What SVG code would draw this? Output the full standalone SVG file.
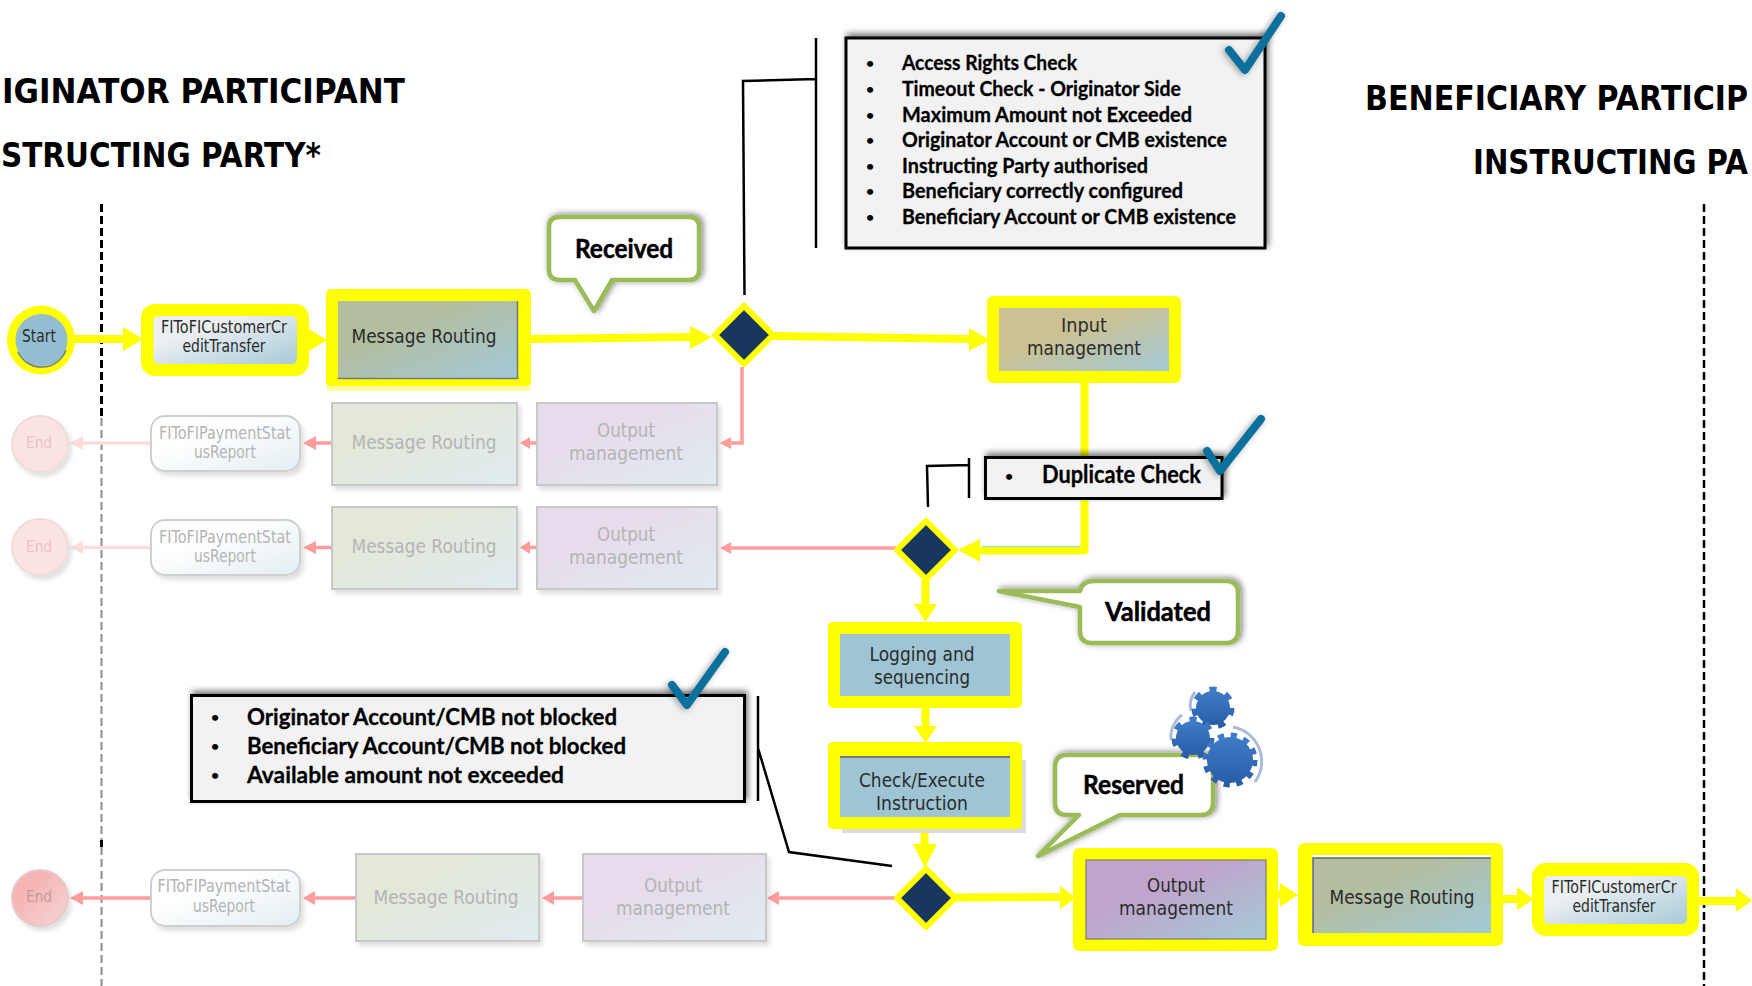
<svg xmlns="http://www.w3.org/2000/svg" width="1752" height="986" viewBox="0 0 1752 986">
<style>
text{font-family:"DejaVu Sans","Liberation Sans",sans-serif;text-anchor:middle;fill:#2b2b2b;font-size:20px}
.t{font-size:33px;font-weight:bold;fill:#000;text-anchor:start}
.fi{font-size:17px}
.fade{fill:#b4b4b4}
.endt{fill:#e6c4c4;font-size:16.5px}
.endd{fill:#c49a9a;font-size:16.5px}
.li{font-family:Lato,"Liberation Sans",sans-serif;font-weight:bold;fill:#000;font-size:21px;text-anchor:start;stroke:#000;stroke-width:.3px}
.li2{font-size:23px}
.li3{font-size:25px}
.bu{font-family:Lato,"Liberation Sans",sans-serif;font-weight:bold;fill:#000;font-size:14px;text-anchor:middle}
.co{font-family:Lato,"Liberation Sans",sans-serif;font-weight:bold;fill:#000;font-size:26px;text-anchor:start;stroke:#000;stroke-width:.5px}
.y{fill:#ff0}
.yl{fill:none;stroke:#ff0;stroke-width:8}
.ya{fill:#ff0}
.red{fill:none;stroke:#ff9c9c;stroke-width:3.5}
.reda{fill:#ff9c9c}
.pale{fill:none;stroke:#ffdcdc;stroke-width:3.5}
.palea{fill:#ffdcdc}
.brk{fill:none;stroke:#000;stroke-width:2.5}
.list{fill:#f2f2f2;stroke:#000;stroke-width:3}
.call{fill:#fff;stroke:#9bbb59;stroke-width:4.5;stroke-linejoin:round}
.chk{fill:none;stroke:#0c6f9c;stroke-width:8;stroke-linecap:round;stroke-linejoin:round}
.fr{fill:url(#fmr);stroke:#c8c8c8;stroke-width:2}
.fo{fill:url(#fom);stroke:#c8c8c8;stroke-width:2}
.ff{fill:url(#ffi);stroke:#cfcfcf;stroke-width:2}
.fe{fill:#fbe3e3;stroke:#f0dada;stroke-width:2}
.nv{fill:#17375e;stroke:#ff0;stroke-width:6;stroke-linejoin:round}
.gt{fill:none;stroke:url(#ggear)}
.arc{fill:none;stroke:#a9bbd8;stroke-width:3}
</style>
<defs>
<linearGradient id="gmr" x1="0" y1="0" x2="1" y2="1"><stop offset=".35" stop-color="#b3bea0"/><stop offset="1" stop-color="#a2c9d9"/></linearGradient>
<linearGradient id="gim" x1="0" y1="0" x2="1" y2="1"><stop offset=".4" stop-color="#cac295"/><stop offset="1" stop-color="#a3c9d8"/></linearGradient>
<linearGradient id="gom" x1="0" y1="0" x2="1" y2="1"><stop offset=".35" stop-color="#c1a3cb"/><stop offset="1" stop-color="#a4c9d8"/></linearGradient>
<linearGradient id="gfi" x1="0" y1="0" x2="1" y2="1"><stop offset=".3" stop-color="#eceff1"/><stop offset="1" stop-color="#a6cad8"/></linearGradient>
<linearGradient id="fmr" x1="0" y1="0" x2="1" y2="1"><stop offset=".35" stop-color="#e3e8da"/><stop offset="1" stop-color="#dfebf0"/></linearGradient>
<linearGradient id="fom" x1="0" y1="0" x2="1" y2="1"><stop offset=".35" stop-color="#e7dceb"/><stop offset="1" stop-color="#dfebf1"/></linearGradient>
<linearGradient id="ffi" x1="0" y1="0" x2="1" y2="1"><stop offset=".35" stop-color="#fff"/><stop offset="1" stop-color="#e2edf2"/></linearGradient>
<linearGradient id="gend" x1="0" y1="0" x2="1" y2="1"><stop offset=".3" stop-color="#f6b4b4"/><stop offset="1" stop-color="#f2d6d6"/></linearGradient>
<linearGradient id="ggear" x1="0" y1="0" x2="0" y2="1"><stop offset="0" stop-color="#3f7cc8"/><stop offset="1" stop-color="#2a5da8"/></linearGradient>
<filter id="sh" x="-10%" y="-25%" width="120%" height="150%"><feDropShadow dx="2" dy="-3" stdDeviation="3" flood-color="#000" flood-opacity=".55"/></filter>
<filter id="sc" x="-15%" y="-25%" width="130%" height="150%"><feDropShadow dx="2" dy="-1" stdDeviation="3" flood-color="#000" flood-opacity=".5"/></filter>
<filter id="sf" x="-10%" y="-10%" width="125%" height="125%"><feDropShadow dx="3" dy="4" stdDeviation="2" flood-color="#000" flood-opacity=".12"/></filter>
<filter id="sk" x="-30%" y="-30%" width="160%" height="160%"><feDropShadow dx="-2" dy="1" stdDeviation="3" flood-color="#000" flood-opacity=".35"/></filter>
</defs>
<rect width="1752" height="986" fill="#fff"/>

<g id="titles">
<text class="t" x="2" y="103" textLength="403" lengthAdjust="spacingAndGlyphs">IGINATOR PARTICIPANT</text>
<text class="t" x="1" y="167" textLength="320" lengthAdjust="spacingAndGlyphs">STRUCTING PARTY*</text>
<text class="t" x="1365" y="110" textLength="383" lengthAdjust="spacingAndGlyphs">BENEFICIARY PARTICIP</text>
<text class="t" x="1473" y="174" textLength="275" lengthAdjust="spacingAndGlyphs">INSTRUCTING PA</text>
</g>

<g id="lanes" fill="none">
<path d="M101.500 204V418" stroke="#000" stroke-width="3" stroke-dasharray="8 4"/>
<path d="M101.500 418V840M101.500 847V986" stroke="#8c8c8c" stroke-width="2" stroke-dasharray="8 4"/>
<path d="M101.500 840V847" stroke="#000" stroke-width="3"/>
<path d="M1704 204V986" stroke="#000" stroke-width="2.500" stroke-dasharray="8 4"/>
</g>

<g id="connectors">
<path class="pale" d="M151 443H80"/><path class="palea" d="M70 443L83 436V450Z"/>
<path class="pale" d="M151 547.500H80"/><path class="palea" d="M70 547.500L83 541V554Z"/>
<path class="red" d="M332 443H312"/><path class="reda" d="M303 443L316 436V450Z"/>
<path class="red" d="M332 547.500H312"/><path class="reda" d="M303 547.500L316 541V554Z"/>
<path class="red" d="M537 443H526"/><path class="reda" d="M520 443L530 437V449Z"/>
<path class="red" d="M537 547.500H526"/><path class="reda" d="M520 547.500L530 541V554Z"/>
<path class="red" d="M742 367V443H728"/><path class="reda" d="M720 443L731 437V449Z"/>
<path class="red" d="M896 548H728"/><path class="reda" d="M720 548L731 542V554Z"/>
<path class="red" d="M895 898H772"/><path class="reda" d="M767 898L779 891V905Z"/>
<path class="red" d="M583 898H550"/><path class="reda" d="M542 898L554 891V905Z"/>
<path class="red" d="M356 898H310"/><path class="reda" d="M303 898L315 891V905Z"/>
<path class="red" d="M151 898H78"/><path class="reda" d="M70 898L83 891V905Z"/>

<path class="yl" d="M70 339H125"/><path class="ya" d="M123 327L143 339L123 351Z"/>
<path class="yl" d="M290 340H312"/><path class="ya" d="M309 329L327 340L309 351Z"/>
<path class="yl" d="M531 339L695 337"/><path class="ya" d="M690 326L712 337L690 349Z"/>
<path class="yl" d="M772 336L972 339"/><path class="ya" d="M969 328L990 340L969 351Z"/>
<path class="yl" d="M1084.500 380V550.500H975" stroke-linejoin="round"/><path class="ya" d="M980 539L958 550L980 562Z"/>
<path d="M982 546.500H1080" fill="none" stroke="#a8e8b8" stroke-width="1.500"/>
<path class="yl" d="M925.500 580V608"/><path class="ya" d="M914 604H937L925.500 622Z"/>
<path class="yl" d="M925.500 706V730"/><path class="ya" d="M914 726H937L925.500 743Z"/>
<path class="yl" d="M924.500 827V848"/><path class="ya" d="M913 844H937L925 868Z"/>
<path class="yl" d="M952 897.500L1065 897"/><path class="ya" d="M1060 886L1076 897.500L1060 909Z"/>
<path class="yl" d="M1276 895H1285"/><path class="ya" d="M1280 883L1298 895L1280 907Z"/>
<path class="yl" d="M1501 899H1520"/><path class="ya" d="M1517 887L1534 899L1517 910Z"/>
<path class="yl" d="M1697 901H1740"/><path class="ya" d="M1736 888L1752 900.500L1736 912Z"/>

<path class="brk" d="M816 38V248M816 79L743 81L744.500 295"/>
<path class="brk" d="M969 458V498M969 465L927 466L928 507"/>
<path class="brk" d="M758 696V801M758 748L789 852L892 866"/>
</g>

<g id="node-start"><ellipse class="y" cx="41" cy="340" rx="34" ry="34.500"/><circle cx="41.500" cy="340" r="26" fill="#93bdd0"/><path d="M18 352A26 26 0 0 0 66 350" fill="none" stroke="#6d7f8a" stroke-width="1.500"/><text x="39" y="342" textLength="34" lengthAdjust="spacingAndGlyphs" class="fi">Start</text></g>
<g id="node-fi-1"><rect class="y" x="141" y="304" width="168" height="72" rx="14"/><rect x="153.500" y="316" width="143.500" height="48" rx="5" fill="url(#gfi)"/><text class="fi" x="224" y="333" textLength="126" lengthAdjust="spacingAndGlyphs">FIToFICustomerCr</text><text class="fi" x="224" y="352" textLength="83" lengthAdjust="spacingAndGlyphs">editTransfer</text></g>
<g id="node-mr-1"><rect x="326" y="380" width="205" height="11" rx="4" fill="#ffff99"/><rect class="y" x="326" y="289" width="205" height="97" rx="5"/><rect x="338" y="301" width="179" height="78" fill="url(#gmr)"/><path d="M338 378.500H517.500V301" fill="none" stroke="#70787a" stroke-width="1.500"/><text x="424" y="343" textLength="145" lengthAdjust="spacingAndGlyphs">Message Routing</text></g>
<g id="node-gw-1"><path class="nv" d="M744 306L773 335L744 364L715 335Z"/></g>
<g id="node-input"><rect class="y" x="987" y="296" width="194" height="87" rx="6"/><rect x="999" y="308" width="170" height="63" fill="url(#gim)"/><text x="1084" y="332" textLength="46" lengthAdjust="spacingAndGlyphs">Input</text><text x="1084" y="355" textLength="114" lengthAdjust="spacingAndGlyphs">management</text></g>

<g id="node-end-2"><ellipse class="fe" cx="40" cy="444" rx="28" ry="28" filter="url(#sf)"/><text class="endt" x="39" y="448" textLength="26" lengthAdjust="spacingAndGlyphs">End</text></g>
<g id="node-status-2"><rect class="ff" x="151" y="416" width="149" height="55" rx="14" filter="url(#sf)"/><text class="fi fade" x="225" y="439" textLength="132" lengthAdjust="spacingAndGlyphs">FIToFIPaymentStat</text><text class="fi fade" x="225" y="458" textLength="62" lengthAdjust="spacingAndGlyphs">usReport</text></g>
<g id="node-mr-2"><rect class="fr" x="332" y="403" width="185" height="82" filter="url(#sf)"/><text class="fade" x="424" y="449" textLength="145" lengthAdjust="spacingAndGlyphs">Message Routing</text></g>
<g id="node-om-2"><rect class="fo" x="537" y="403" width="180" height="82" filter="url(#sf)"/><text class="fade" x="626" y="437" textLength="58" lengthAdjust="spacingAndGlyphs">Output</text><text class="fade" x="626" y="460" textLength="114" lengthAdjust="spacingAndGlyphs">management</text></g>

<g id="node-end-3"><ellipse class="fe" cx="40" cy="547" rx="28" ry="28" filter="url(#sf)"/><text class="endt" x="39" y="552" textLength="26" lengthAdjust="spacingAndGlyphs">End</text></g>
<g id="node-status-3"><rect class="ff" x="151" y="520" width="149" height="55" rx="14" filter="url(#sf)"/><text class="fi fade" x="225" y="543" textLength="132" lengthAdjust="spacingAndGlyphs">FIToFIPaymentStat</text><text class="fi fade" x="225" y="562" textLength="62" lengthAdjust="spacingAndGlyphs">usReport</text></g>
<g id="node-mr-3"><rect class="fr" x="332" y="507" width="185" height="82" filter="url(#sf)"/><text class="fade" x="424" y="553" textLength="145" lengthAdjust="spacingAndGlyphs">Message Routing</text></g>
<g id="node-om-3"><rect class="fo" x="537" y="507" width="180" height="82" filter="url(#sf)"/><text class="fade" x="626" y="541" textLength="58" lengthAdjust="spacingAndGlyphs">Output</text><text class="fade" x="626" y="564" textLength="114" lengthAdjust="spacingAndGlyphs">management</text></g>

<g id="node-gw-2"><path class="nv" d="M926 521L955 550L926 579L897 550Z"/></g>
<g id="node-logging"><rect class="y" x="828" y="622" width="194" height="86" rx="5"/><rect x="840" y="634" width="170" height="62" fill="#9fc5d5"/><text x="922" y="661" textLength="105" lengthAdjust="spacingAndGlyphs">Logging and</text><text x="922" y="684" textLength="96" lengthAdjust="spacingAndGlyphs">sequencing</text></g>
<g id="node-check"><rect x="842" y="760" width="184" height="73" fill="#dcdcdc"/><rect class="y" x="828" y="742" width="194" height="87" rx="5"/><rect x="840" y="756" width="170" height="61" fill="#9fc5d5" stroke-width="0"/><rect x="840" y="756" width="170" height="2" fill="#777"/><text x="922" y="787" textLength="126" lengthAdjust="spacingAndGlyphs">Check/Execute</text><text x="922" y="810" textLength="92" lengthAdjust="spacingAndGlyphs">Instruction</text></g>
<g id="node-gw-3"><path class="nv" d="M926 869L955 898L926 927L897 898Z"/></g>

<g id="node-end-4"><ellipse cx="40" cy="898" rx="28" ry="28" fill="url(#gend)" stroke="#e8c8c8" stroke-width="2" filter="url(#sf)"/><text class="endd" x="39" y="902" textLength="26" lengthAdjust="spacingAndGlyphs">End</text></g>
<g id="node-status-4"><rect class="ff" x="151" y="870" width="149" height="56" rx="14" filter="url(#sf)"/><text class="fi fade" x="224" y="892" textLength="133" lengthAdjust="spacingAndGlyphs">FIToFIPaymentStat</text><text class="fi fade" x="224" y="912" textLength="62" lengthAdjust="spacingAndGlyphs">usReport</text></g>
<g id="node-mr-4"><rect class="fr" x="356" y="854" width="183" height="87" filter="url(#sf)"/><text class="fade" x="446" y="904" textLength="145" lengthAdjust="spacingAndGlyphs">Message Routing</text></g>
<g id="node-om-4"><rect class="fo" x="583" y="854" width="183" height="87" filter="url(#sf)"/><text class="fade" x="673" y="892" textLength="58" lengthAdjust="spacingAndGlyphs">Output</text><text class="fade" x="673" y="915" textLength="114" lengthAdjust="spacingAndGlyphs">management</text></g>

<g id="node-om-5"><rect class="y" x="1073" y="848" width="205" height="103" rx="6"/><rect x="1086" y="860" width="180" height="79" fill="url(#gom)" stroke="#6a6a78" stroke-width="1"/><text x="1176" y="892" textLength="58" lengthAdjust="spacingAndGlyphs">Output</text><text x="1176" y="915" textLength="114" lengthAdjust="spacingAndGlyphs">management</text></g>
<g id="node-mr-5"><rect class="y" x="1298" y="843" width="205" height="103" rx="6"/><rect x="1312" y="855" width="179" height="78" fill="#fff"/><rect x="1313" y="858" width="178" height="75" fill="url(#gmr)"/><path d="M1313 933V858H1491" fill="none" stroke="#5f6668" stroke-width="1.500"/><text x="1402" y="904" textLength="145" lengthAdjust="spacingAndGlyphs">Message Routing</text></g>
<g id="node-fi-5"><rect class="y" x="1532" y="863" width="167" height="73" rx="14"/><rect x="1544" y="876" width="143" height="48" rx="5" fill="url(#gfi)"/><text class="fi" x="1614" y="893" textLength="125" lengthAdjust="spacingAndGlyphs">FIToFICustomerCr</text><text class="fi" x="1614" y="912" textLength="83" lengthAdjust="spacingAndGlyphs">editTransfer</text></g>

<g id="note-checks-1">
<rect class="list" x="846" y="38" width="419" height="210" filter="url(#sh)"/>
<text class="bu" x="870" y="68">•</text><text class="li" x="902" y="70" textLength="175" lengthAdjust="spacingAndGlyphs">Access Rights Check</text>
<text class="bu" x="870" y="94">•</text><text class="li" x="902" y="96" textLength="279" lengthAdjust="spacingAndGlyphs">Timeout Check - Originator Side</text>
<text class="bu" x="870" y="120">•</text><text class="li" x="902" y="122" textLength="290" lengthAdjust="spacingAndGlyphs">Maximum Amount not Exceeded</text>
<text class="bu" x="870" y="145">•</text><text class="li" x="902" y="147" textLength="325" lengthAdjust="spacingAndGlyphs">Originator Account or CMB existence</text>
<text class="bu" x="870" y="171">•</text><text class="li" x="902" y="173" textLength="246" lengthAdjust="spacingAndGlyphs">Instructing Party authorised</text>
<text class="bu" x="870" y="196">•</text><text class="li" x="902" y="198" textLength="281" lengthAdjust="spacingAndGlyphs">Beneficiary correctly configured</text>
<text class="bu" x="870" y="222">•</text><text class="li" x="902" y="224" textLength="334" lengthAdjust="spacingAndGlyphs">Beneficiary Account or CMB existence</text>
<path class="chk" d="M1229 50L1245 70L1281 16" filter="url(#sk)"/>
</g>
<g id="note-duplicate">
<rect class="list" x="985.500" y="457.500" width="236.500" height="41" filter="url(#sh)"/>
<text class="bu" x="1009" y="481" font-size="16">•</text><text class="li li3" x="1042" y="483" textLength="159" lengthAdjust="spacingAndGlyphs">Duplicate Check</text>
<path class="chk" d="M1207 451L1220 471L1261 419" filter="url(#sk)"/>
</g>
<g id="note-checks-2">
<rect class="list" x="191.500" y="695.500" width="553" height="106" filter="url(#sh)"/>
<text class="bu" x="215" y="722">•</text><text class="li li2" x="247" y="725" textLength="370" lengthAdjust="spacingAndGlyphs">Originator Account/CMB not blocked</text>
<text class="bu" x="215" y="751">•</text><text class="li li2" x="247" y="754" textLength="379" lengthAdjust="spacingAndGlyphs">Beneficiary Account/CMB not blocked</text>
<text class="bu" x="215" y="780">•</text><text class="li li2" x="247" y="783" textLength="317" lengthAdjust="spacingAndGlyphs">Available amount not exceeded</text>
<path class="chk" d="M672 685L687 705L725 652" filter="url(#sk)"/>
</g>

<g id="callout-received">
<path class="call" filter="url(#sc)" d="M560 217H689Q699 217 699 227V270Q699 280 689 280H612L594 311L575 280H560Q549 280 549 270V227Q549 217 560 217Z"/>
<text class="co" x="575" y="258" textLength="98" lengthAdjust="spacingAndGlyphs">Received</text>
</g>
<g id="callout-validated">
<path class="call" filter="url(#sc)" d="M1094 581H1226Q1238 581 1238 593V631Q1238 643 1226 643H1092Q1080 643 1080 631V607L999 591H1080Q1082 581 1094 581Z"/>
<text class="co" x="1105" y="621" textLength="106" lengthAdjust="spacingAndGlyphs">Validated</text>
</g>
<g id="callout-reserved">
<path class="call" filter="url(#sc)" d="M1067 755H1201Q1213 755 1213 767V803Q1213 815 1201 815H1120L1038 856L1079 815H1067Q1055 815 1055 803V767Q1055 755 1067 755Z"/>
<text class="co" x="1083" y="794" textLength="101" lengthAdjust="spacingAndGlyphs">Reserved</text>
</g>

<g id="gears">
<path class="arc" d="M1233 727A35 35 0 0 1 1255 782"/>
<path class="arc" d="M1182 715A28 28 0 0 0 1171 740"/>
<path class="arc" d="M1195 692A22 22 0 0 0 1191 711"/>
<circle cx="1213" cy="708" r="17" fill="url(#ggear)"/><circle class="gt" cx="1213" cy="708" r="18" stroke-width="7" stroke-dasharray="7 9.160"/>
<circle cx="1193" cy="738" r="17" fill="url(#ggear)"/><circle class="gt" cx="1193" cy="738" r="18" stroke-width="7" stroke-dasharray="7 9.160"/>
<circle cx="1230" cy="760" r="23" fill="url(#ggear)"/><circle class="gt" cx="1230" cy="760" r="24" stroke-width="7" stroke-dasharray="6 6.570"/>
</g>
</svg>
